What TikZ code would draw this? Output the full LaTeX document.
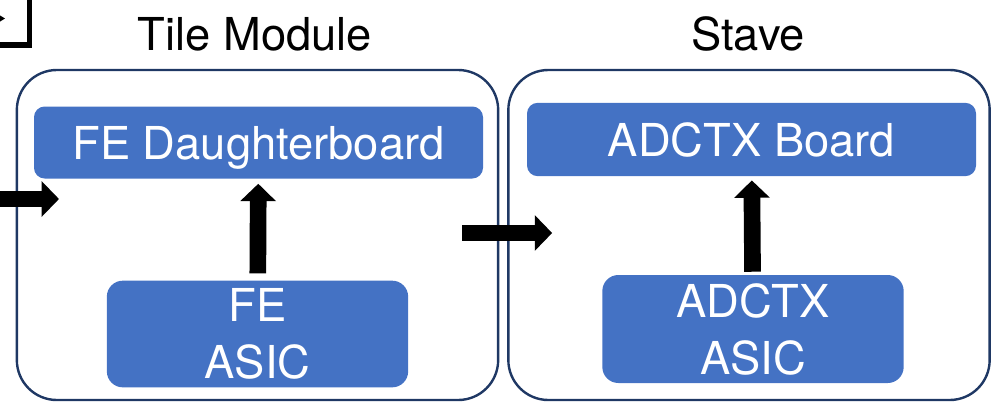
\documentclass[tikz,border=0pt]{standalone}
\usepackage{fontspec}
\setsansfont{TeX Gyre Heros}
\usetikzlibrary{arrows.meta}
\definecolor{boardblue}{HTML}{4472C4}
\definecolor{framenavy}{HTML}{1F3864}
\begin{document}
\begin{tikzpicture}[
    x=0.75pt, y=-0.75pt,
    font=\sffamily\fontsize{34}{42.75}\selectfont,
    framestyle/.style={rectangle, rounded corners=30pt, draw=framenavy, line width=1.8pt, minimum width=361pt, minimum height=247.5pt},
    boardstyle/.style={rectangle, rounded corners=8pt, fill=boardblue, text=white, text depth=0pt, minimum width=336.75pt, minimum height=54pt},
    asicstyle/.style={rectangle, rounded corners=12pt, fill=boardblue, text=white, align=center, inner sep=0pt, minimum width=226pt, minimum height=80pt},
    titlestyle/.style={anchor=base, inner sep=0pt},
    arrowstyle/.style={-{Triangle[width=26pt,length=13pt]}, line width=12.5pt}
]
    \useasboundingbox (0,0) rectangle (998,404);
    \clip (0,0) rectangle (998,404);

    % titles
    \node[titlestyle] (tiletitle) at (255,50) {Tile Module};
    \node[titlestyle] (stavetitle) at (748,50) {Stave};

    % outer frames
    \node[framestyle] (tile) at (257.5,235) {};
    \node[framestyle] (stave) at (749,235) {};

    % boards and chips
    \node[boardstyle] (fedb) at (258.5,142.5) {FE Daughterboard};
    \node[asicstyle] (feasic) at (257.5,334) {FE\\ASIC};
    \node[boardstyle, minimum height=55pt] (adctxb) at (751.5,139.5) {ADCTX Board};
    \node[asicstyle, minimum height=81pt] (adctxasic) at (753,329) {ADCTX\\ASIC};

    % cut-off bits at the left edge
    \draw[line width=4.2pt] (-10,45) -- (29.5,45) -- (29.5,-10);
    \fill (-4,13) -- (5,18.5) -- (-4,24) -- cycle;
    \coordinate (feedin) at (-10,199);
    \coordinate (feedout) at (59,199);

    \draw[arrowstyle] (feedin) -- (feedout);
    \draw[arrowstyle, shorten <=5.25pt, shorten >=3.75pt] (feasic) -- (fedb);
    \draw[arrowstyle, shorten <=2.25pt, shorten >=3pt] (adctxasic) -- (adctxb);
    \draw[arrowstyle] ([xshift=-27.75pt,yshift=1.5pt]tile.east) -- ([xshift=33.75pt,yshift=1.5pt]stave.west);
\end{tikzpicture}
\end{document}
